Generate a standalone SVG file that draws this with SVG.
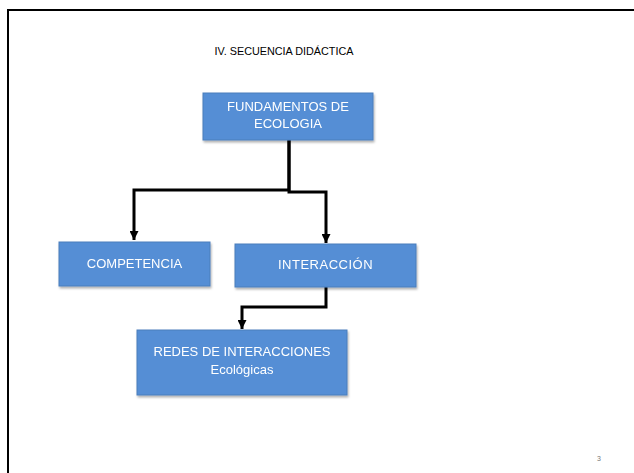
<svg xmlns="http://www.w3.org/2000/svg" width="634" height="473" viewBox="0 0 634 473">
<style>
.box{fill:#558ed5;stroke:#4a7ebb;stroke-width:1}
.t{font-family:"Liberation Sans",Arial,sans-serif;font-size:13px;fill:#ffffff;text-anchor:middle}
.c{fill:none;stroke:#000;stroke-width:3}
</style>
<defs>
<marker id="ah" viewBox="0 0 10 10" refX="10" refY="5" markerWidth="3" markerHeight="3" orient="auto" markerUnits="strokeWidth">
<path d="M0,0 L10,5 L0,10 z" fill="#000"/>
</marker>
<filter id="sh" x="-10%" y="-10%" width="120%" height="130%">
<feDropShadow dx="1" dy="2" stdDeviation="1" flood-color="#000" flood-opacity="0.3"/>
</filter>
</defs>
<rect width="634" height="473" fill="#fff"/>
<rect x="8" y="10" width="700" height="500" fill="none" stroke="#000" stroke-width="2"/>
<text x="284" y="55" font-family="Liberation Sans,Arial,sans-serif" font-size="10.8" fill="#000" text-anchor="middle">IV. SECUENCIA DIDÁCTICA</text>
<text x="599" y="461" font-family="Liberation Sans,Arial,sans-serif" font-size="7" fill="#777" text-anchor="middle">3</text>
<g id="connectors">
<path class="c" d="M289,140 V190 H134 V240" marker-end="url(#ah)"/>
<path class="c" d="M289,140 V192 H326 V243" marker-end="url(#ah)"/>
<path class="c" d="M326,287 V307 H242 V329" marker-end="url(#ah)"/>
</g>
<g id="fundamentos" filter="url(#sh)">
<rect class="box" x="203" y="93" width="170" height="47"/>
<text class="t" x="288" y="111">FUNDAMENTOS DE</text>
<text class="t" x="288" y="128">ECOLOGIA</text>
</g>
<g id="competencia" filter="url(#sh)">
<rect class="box" x="59" y="242" width="151" height="44"/>
<text class="t" x="134.5" y="268">COMPETENCIA</text>
</g>
<g id="interaccion" filter="url(#sh)">
<rect class="box" x="235" y="244" width="181" height="43"/>
<text class="t" x="325.5" y="269" letter-spacing="0.5">INTERACCIÓN</text>
</g>
<g id="redes" filter="url(#sh)">
<rect class="box" x="137" y="330" width="210" height="65"/>
<text class="t" x="242" y="356">REDES DE INTERACCIONES</text>
<text class="t" x="242" y="374">Ecológicas</text>
</g>
</svg>
